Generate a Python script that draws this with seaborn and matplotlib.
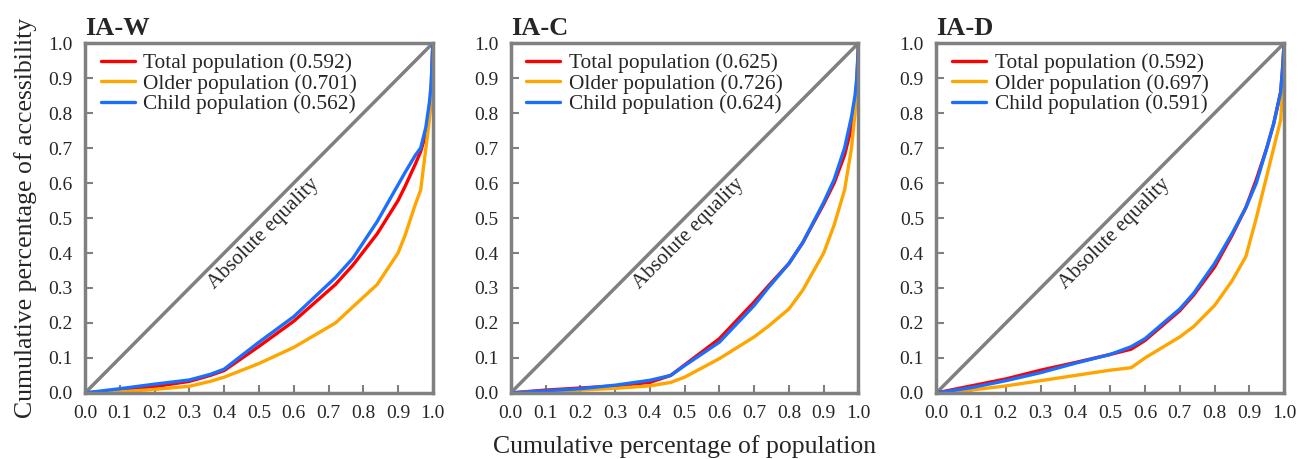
import matplotlib
matplotlib.use('Agg')
import matplotlib.pyplot as plt
import seaborn as sns

# panel titles
PANELS = ['IA-W', 'IA-C', 'IA-D']

# IA-W
iaw_x = [0, 0.1, 0.2, 0.3, 0.36, 0.4, 0.5, 0.6, 0.72, 0.77, 0.84, 0.9, 0.92, 0.95, 0.965, 0.98, 0.99, 0.995, 1.0]
iaw_total = [0, 0.008, 0.018, 0.033, 0.05, 0.064, 0.133, 0.205, 0.31, 0.365, 0.455, 0.55, 0.59, 0.655, 0.69, 0.74, 0.79, 0.86, 1.0]
iaw_older = [0, 0.003, 0.01, 0.019, 0.033, 0.045, 0.084, 0.13, 0.2, 0.246, 0.31, 0.40, 0.45, 0.54, 0.58, 0.70, 0.78, 0.86, 1.0]
iaw_child = [0, 0.012, 0.025, 0.037, 0.053, 0.068, 0.145, 0.218, 0.33, 0.385, 0.49, 0.595, 0.63, 0.68, 0.70, 0.76, 0.83, 0.88, 1.0]
iaw_gini = ['0.592', '0.701', '0.562']

# IA-C
iac_x = [0, 0.1, 0.2, 0.3, 0.4, 0.46, 0.5, 0.6, 0.7, 0.74, 0.8, 0.84, 0.9, 0.93, 0.96, 0.98, 0.99, 0.995, 1.0]
iac_total = [0, 0.008, 0.014, 0.02, 0.03, 0.05, 0.08, 0.155, 0.26, 0.305, 0.37, 0.43, 0.54, 0.6, 0.68, 0.76, 0.82, 0.88, 1.0]
iac_older = [0, 0.003, 0.008, 0.013, 0.02, 0.03, 0.045, 0.098, 0.16, 0.19, 0.24, 0.294, 0.40, 0.48, 0.58, 0.70, 0.80, 0.87, 1.0]
iac_child = [0, 0.006, 0.012, 0.022, 0.036, 0.05, 0.078, 0.145, 0.25, 0.3, 0.37, 0.43, 0.545, 0.61, 0.7, 0.79, 0.85, 0.9, 1.0]
iac_gini = ['0.625', '0.726', '0.624']

# IA-D
iad_x = [0, 0.1, 0.2, 0.3, 0.4, 0.5, 0.56, 0.6, 0.7, 0.74, 0.8, 0.85, 0.89, 0.92, 0.95, 0.97, 0.99, 0.995, 1.0]
iad_total = [0, 0.02, 0.04, 0.065, 0.087, 0.11, 0.125, 0.15, 0.235, 0.28, 0.36, 0.45, 0.53, 0.61, 0.70, 0.77, 0.86, 0.92, 1.0]
iad_older = [0, 0.008, 0.02, 0.035, 0.05, 0.065, 0.072, 0.1, 0.16, 0.19, 0.25, 0.32, 0.39, 0.5, 0.62, 0.70, 0.78, 0.86, 1.0]
iad_child = [0, 0.015, 0.035, 0.058, 0.085, 0.11, 0.132, 0.155, 0.24, 0.285, 0.37, 0.455, 0.53, 0.6, 0.70, 0.77, 0.86, 0.92, 1.0]
iad_gini = ['0.592', '0.697', '0.591']

GROUPS = ['Total population', 'Older population', 'Child population']
COLORS = ['#ff0000', '#ffa500', '#1a6fff']
GRAY = '#808080'

sns.set_style('ticks')
plt.rcParams['font.family'] = ['Liberation Serif', 'DejaVu Serif']

data = [
    (iaw_x, [iaw_total, iaw_older, iaw_child], iaw_gini),
    (iac_x, [iac_total, iac_older, iac_child], iac_gini),
    (iad_x, [iad_total, iad_older, iad_child], iad_gini),
]

fig, axes = plt.subplots(1, 3, figsize=(13.09, 4.59), dpi=100)
plt.subplots_adjust(left=0.065, right=0.981, bottom=0.144, top=0.906, wspace=0.224)

for ax, title, (xs, series, gini) in zip(axes, PANELS, data):
    # line of equality
    ax.plot([0, 1], [0, 1], color=GRAY, linewidth=2.5, zorder=1)
    for ys, name, g, c in zip(series, GROUPS, gini, COLORS):
        sns.lineplot(x=xs, y=ys, ax=ax, color=c, linewidth=2.4,
                     label=f'{name} ({g})', sort=False, estimator=None)
    ax.text(0.513, 0.456, 'Absolute equality', rotation=45, rotation_mode='anchor',
            ha='center', va='center', fontsize=15, transform=ax.transAxes)
    ax.set_xlim(0, 1)
    ax.set_ylim(0, 1)
    ax.set_xticks([i / 10 for i in range(11)])
    ax.set_yticks([i / 10 for i in range(11)])
    ax.set_xticklabels([f'{i / 10:.1f}' for i in range(11)])
    ax.set_yticklabels([f'{i / 10:.1f}' for i in range(11)])
    ax.tick_params(direction='in', length=6, width=1.5, color=GRAY, labelsize=14, pad=9)
    for s in ax.spines.values():
        s.set_color(GRAY)
        s.set_linewidth(2.5)
        s.set_zorder(5)
    ax.set_title(title, loc='left', fontsize=19, fontweight='bold', pad=6)
    ax.legend(loc='upper left', bbox_to_anchor=(0.02, 0.995), frameon=False, fontsize=15.4,
              handlelength=1.6, handletextpad=0.4, labelspacing=0.02, borderaxespad=0)
    ax.set_xlabel('')
    ax.set_ylabel('')

axes[0].set_ylabel('Cumulative percentage of accessibility', fontsize=18.5, labelpad=8)
axes[1].set_xlabel('Cumulative percentage of population', fontsize=18.5, labelpad=9)

plt.savefig('out.png', dpi=100)
